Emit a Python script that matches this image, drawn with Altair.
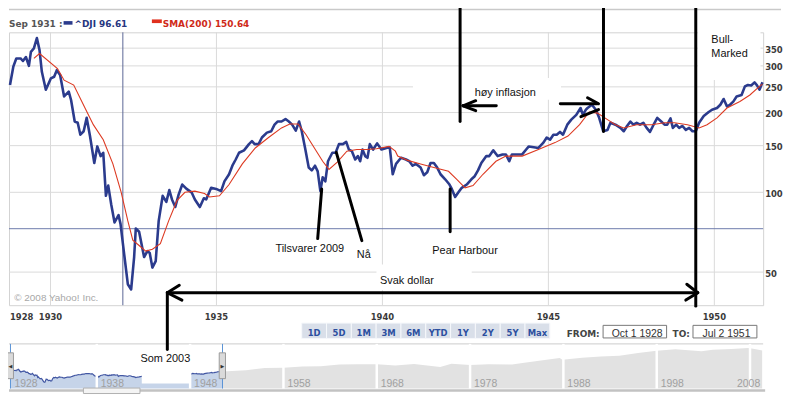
import altair as alt
import pandas as pd

# ---------------- values ----------------
# ^DJI (decimal year, index level)
dji_t = [1928.78, 1928.88, 1928.97, 1929.10, 1929.17, 1929.26, 1929.35, 1929.41, 1929.50, 1929.59,
         1929.67, 1929.74, 1929.86, 1930.01, 1930.11, 1930.19, 1930.29, 1930.41, 1930.55, 1930.62,
         1930.73, 1930.82, 1930.90, 1931.00, 1931.09, 1931.19, 1931.32, 1931.41, 1931.51, 1931.59,
         1931.67, 1931.74, 1931.83, 1931.93, 1932.05, 1932.11, 1932.23, 1932.33, 1932.43, 1932.52,
         1932.57, 1932.67, 1932.82, 1932.92, 1932.99, 1933.07, 1933.17, 1933.26, 1933.38, 1933.49,
         1933.58, 1933.66, 1933.76, 1933.86, 1933.97, 1934.10, 1934.25, 1934.35, 1934.50, 1934.62,
         1934.69, 1934.84, 1934.99, 1935.14, 1935.24, 1935.38, 1935.48, 1935.58, 1935.68, 1935.83,
         1935.98, 1936.07, 1936.15, 1936.27, 1936.37, 1936.52, 1936.65, 1936.75, 1936.84, 1936.96,
         1937.08, 1937.18, 1937.28, 1937.39, 1937.49, 1937.57, 1937.67, 1937.78, 1937.87, 1937.97,
         1938.05, 1938.13, 1938.20, 1938.28, 1938.36, 1938.49, 1938.59, 1938.69, 1938.81, 1938.91,
         1938.99, 1939.08, 1939.18, 1939.26, 1939.33, 1939.40, 1939.48, 1939.55, 1939.62, 1939.72,
         1939.84, 1939.97, 1940.12, 1940.22, 1940.31, 1940.41, 1940.56, 1940.71, 1940.81, 1940.91,
         1941.01, 1941.15, 1941.25, 1941.35, 1941.45, 1941.55, 1941.65, 1941.75, 1941.89, 1942.02,
         1942.09, 1942.19, 1942.29, 1942.39, 1942.54, 1942.68, 1942.78, 1942.88, 1942.98, 1943.13,
         1943.22, 1943.34, 1943.47, 1943.62, 1943.72, 1943.82, 1943.90, 1944.06, 1944.21, 1944.33,
         1944.41, 1944.56, 1944.70, 1944.85, 1944.95, 1945.05, 1945.15, 1945.25, 1945.35, 1945.44,
         1945.57, 1945.69, 1945.84, 1945.97, 1946.04, 1946.13, 1946.18, 1946.31, 1946.43, 1946.53,
         1946.65, 1946.78, 1946.87, 1947.02, 1947.17, 1947.27, 1947.37, 1947.47, 1947.56, 1947.66,
         1947.76, 1947.86, 1947.96, 1948.06, 1948.15, 1948.28, 1948.40, 1948.50, 1948.58, 1948.68,
         1948.75, 1948.85, 1948.94, 1949.04, 1949.14, 1949.24, 1949.34, 1949.44, 1949.54, 1949.68,
         1949.83, 1949.93, 1950.08, 1950.18, 1950.28, 1950.38, 1950.47, 1950.57, 1950.67, 1950.82,
         1950.92, 1951.01, 1951.11, 1951.21, 1951.28, 1951.36, 1951.45]
dji_v = [254, 298, 320, 320, 313, 324, 300, 339, 349, 382,
         344, 285, 244, 269, 273, 289, 277, 230, 240, 223,
         185, 183, 165, 170, 191, 163, 129, 149, 137, 141,
         97, 106, 90, 77, 82, 76, 57, 45, 43, 57,
         73, 71, 57, 60, 59, 52, 55, 78, 97, 92,
         102, 94, 88, 98, 107, 103, 100, 94, 88, 95,
         94, 104, 103, 101, 110, 117, 126, 133, 141, 144,
         152, 156, 152, 152, 161, 168, 170, 180, 185, 185,
         189, 185, 180, 171, 185, 170, 147, 124, 121, 126,
         120, 101, 114, 110, 131, 141, 141, 152, 152, 155,
         145, 143, 133, 137, 131, 145, 137, 135, 152, 145,
         153, 145, 147, 148, 117, 128, 135, 133, 131, 126,
         128, 124, 116, 119, 129, 129, 124, 117, 112, 107,
         103, 96, 100, 104, 107, 112, 115, 121, 129, 137,
         137, 144, 137, 139, 139, 131, 139, 139, 139, 145,
         149, 148, 147, 154, 161, 158, 165, 165, 169, 165,
         180, 188, 196, 208, 196, 205, 208, 214, 205, 191,
         170, 172, 183, 180, 175, 170, 178, 185, 180, 183,
         180, 183, 175, 169, 178, 191, 185, 180, 180, 190,
         175, 180, 175, 178, 172, 175, 170, 170, 183, 194,
         201, 205, 208, 214, 225, 211, 214, 220, 230, 233,
         251, 254, 253, 260, 254, 244, 260]

# SMA(200)
sma_t = [1929.50, 1929.67, 1930.21, 1930.41, 1930.70, 1931.04, 1931.29, 1931.59, 1931.88, 1932.13,
         1932.33, 1932.48, 1932.67, 1932.87, 1933.07, 1933.31, 1933.56, 1933.81, 1934.05, 1934.35,
         1934.64, 1934.79, 1935.09, 1935.38, 1935.78, 1936.17, 1936.57, 1936.96, 1937.21, 1937.46,
         1937.70, 1937.95, 1938.20, 1938.39, 1938.64, 1938.93, 1939.23, 1939.53, 1939.82, 1940.20,
         1940.39, 1940.46, 1940.76, 1941.15, 1941.55, 1941.99, 1942.24, 1942.49, 1942.73, 1943.03,
         1943.42, 1943.72, 1944.21, 1944.70, 1945.20, 1945.59, 1945.94, 1946.23, 1946.48, 1946.78,
         1947.02, 1947.27, 1947.66, 1948.11, 1948.50, 1948.80, 1949.19, 1949.54, 1949.78, 1950.08,
         1950.38, 1950.77, 1951.07, 1951.36, 1951.45]
sma_v = [320, 334, 293, 265, 254, 208, 180, 158, 128, 100,
         78, 66, 63, 60, 61, 64, 78, 93, 100, 101,
         99, 96, 97, 107, 128, 147, 161, 175, 181, 181,
         165, 147, 131, 122, 130, 143, 145, 145, 146, 149,
         143, 137, 132, 128, 124, 120, 112, 104, 106, 117,
         131, 137, 137, 145, 154, 163, 180, 201, 199, 188,
         180, 175, 180, 180, 183, 183, 180, 175, 180, 191,
         208, 220, 233, 251, 256]

# navigator: the rest of the long-term series, 1951 - 2008
nav_ext_t = [1951.47, 1952, 1954, 1956, 1958, 1960, 1962, 1964, 1966, 1968, 1970, 1972, 1974.8,
             1976, 1978, 1980, 1982.5, 1984, 1986, 1987.6, 1987.9, 1990, 1992, 1994, 1996,
             1998, 2000, 2002.8, 2004, 2006, 2007.8, 2008.5, 2009.3]
nav_ext_v = [260, 270, 330, 480, 500, 620, 650, 840, 900, 900, 720, 950, 560,
             960, 800, 880, 860, 1200, 1800, 2600, 1900, 2700, 3300, 3800, 5800,
             8500, 11000, 7800, 10400, 11500, 13900, 11400, 9000]

x_ticks = [1930, 1935, 1940, 1945, 1950]
x_tick_s = ['1930', '1935', '1940', '1945', '1950']
x_first_t = [1928.75]
x_first_s = ['1928']
y_ticks = [50, 100, 150, 200, 250, 300, 350]
y_tick_s = ['50', '100', '150', '200', '250', '300', '350']
nav_decades = [1938, 1948, 1958, 1968, 1978, 1988, 1998, 2008]
nav_label_t = [1928.75, 1938, 1948, 1958, 1968, 1978, 1988, 1998]
nav_label_s = ['1928', '1938', '1948', '1958', '1968', '1978', '1988', '1998']
nav_last_t = [2009.3]
nav_last_s = ['2008']
handle_t = [1928.75, 1951.47]
handle_glyph = ['\u25C0', '\u25B6']
buttons = ['1D', '5D', '1M', '3M', '6M', 'YTD', '1Y', '2Y', '5Y', 'Max']
cross_t = [1932.18]
cross_v = [72.9]

# hand-drawn annotation strokes (from year/value to year/value)
seg_t1 = [1942.34, 1946.66, 1949.44,
          1942.43, 1942.43, 1942.43,
          1945.36, 1946.18, 1945.98,
          1938.17, 1938.61, 1942.04,
          1933.52, 1933.52, 1933.52, 1949.50, 1949.50,
          1933.52]
seg_v1 = [529.3, 529.3, 529.3,
          212.1, 212.1, 212.1,
          215.9, 227.4, 193.0,
          102.9, 141.5, 102.9,
          41.8, 41.8, 41.8, 41.8, 41.8,
          41.8]
seg_t2 = [1942.34, 1946.66, 1949.44,
          1943.43, 1942.81, 1942.81,
          1946.48, 1946.51, 1946.51,
          1938.05, 1939.38, 1942.04,
          1949.50, 1933.88, 1933.96, 1949.17, 1949.14,
          1933.52]
seg_v2 = [184.9, 169.6, 37.2,
          212.1, 221.7, 203.4,
          215.9, 215.9, 205.1,
          66.9, 65.7, 71.0,
          41.8, 44.6, 39.2, 45.0, 39.2,
          25.5]

note_s = ['h\u00f8y inflasjon', 'Tilsvarer 2009', 'N\u00e5', 'Pear Harbour', 'Svak dollar', 'Som 2003']
note_t = [1943.70, 1937.81, 1939.44, 1942.49, 1940.74, 1933.46]
note_v = [241.5, 62.4, 59.3, 61.3, 47.4, 24.0]
bull_s = ['Bull-', 'Marked']
bull_t = [1949.91, 1949.91]
bull_v = [384.6, 341.0]

# white patches painted behind the hand-written notes
box_t1 = [1940.92, 1949.50, 1939.82, 1932.75]
box_v1 = [270.2, 419.5, 53.4, 25.9]
box_t2 = [1945.38, 1951.39, 1942.69, 1934.20]
box_v2 = [223.5, 265.6, 42.7, 19.0]

# ---------------- chart ----------------
UI = 'DejaVu Sans'
TXT = 'Liberation Sans'
W, H = 760, 275
DY = 2.5
one = pd.DataFrame({'a': [0]})

xs = alt.Scale(domain=[1928.75, 1951.47], nice=False, zero=False)
ys = alt.Scale(type='log', domain=[37.5, 401.6], nice=False)


def X(f):
    return alt.X(f, type='quantitative', scale=xs, axis=None)


def Y(f):
    return alt.Y(f, type='quantitative', scale=ys, axis=None)


dji = pd.DataFrame({'t': dji_t, 'v': dji_v})
sma = pd.DataFrame({'t': sma_t, 'v': sma_v})

g_x = alt.Chart(pd.DataFrame({'t': x_ticks})).mark_rule(color='#dadada', strokeWidth=1).encode(x=X('t'))
g_y = alt.Chart(pd.DataFrame({'v': y_ticks})).mark_rule(color='#dadada', strokeWidth=1).encode(y=Y('v'))
lab_x = alt.Chart(pd.DataFrame({'t': x_ticks, 's': x_tick_s})).mark_text(
    font=UI, fontSize=8.5, fontWeight='bold', color='#3a3a3a', baseline='middle', dy=DY).encode(
    x=X('t'), y=alt.value(284), text='s:N')
lab_x0 = alt.Chart(pd.DataFrame({'t': x_first_t, 's': x_first_s})).mark_text(
    font=UI, fontSize=8.5, fontWeight='bold', color='#3a3a3a', baseline='middle', align='left', dx=1, dy=DY).encode(
    x=X('t'), y=alt.value(284), text='s:N')
lab_y = alt.Chart(pd.DataFrame({'v': y_ticks, 's': y_tick_s})).mark_text(
    font=UI, fontSize=8.5, fontWeight='bold', color='#3a3a3a', baseline='middle', align='left', dy=1.5).encode(
    x=alt.value(W + 2), y=Y('v'), text='s:N')
m_cross_v = alt.Chart(pd.DataFrame({'t': cross_t})).mark_rule(color='#5b6796', strokeWidth=1).encode(x=X('t'))
m_cross_h = alt.Chart(pd.DataFrame({'v': cross_v})).mark_rule(color='#6e7bab', strokeWidth=1).encode(y=Y('v'))
m_dji = alt.Chart(dji).mark_line(color='#2b3b8d', strokeWidth=2.6, strokeJoin='round').encode(x=X('t'), y=Y('v'))
m_sma = alt.Chart(sma).mark_line(color='#dd3a22', strokeWidth=1.1).encode(x=X('t'), y=Y('v'))
m_copy = alt.Chart(pd.DataFrame({'t': [1928.91], 'v': [40.9], 's': ['\u00a9 2008  Yahoo! Inc.']})).mark_text(
    align='left', baseline='middle', font=TXT, fontSize=10, color='#a8a8a8', dy=DY).encode(
    x=X('t'), y=Y('v'), text='s:N')
main = alt.layer(g_x, g_y, lab_x, lab_x0, lab_y, m_cross_v, m_cross_h, m_dji, m_sma, m_copy)

# navigator
nxs = alt.Scale(domain=[1928.75, 2009.3], range=[1.5, 759], nice=False, zero=False)
nys = alt.Scale(type='log', domain=[15, 27300], range=[359, 314], nice=False)


def NX(f):
    return alt.X(f, type='quantitative', scale=nxs, axis=None)


def NY(f):
    return alt.Y(f, type='quantitative', scale=nys, axis=None)


nav_dji = dji.assign(base=15)
nav_ext = pd.DataFrame({'t': nav_ext_t, 'v': nav_ext_v, 'base': 15})
n_top = alt.Chart(one).mark_rule(color='#cccccc', strokeWidth=1).encode(
    x=alt.value(0), x2=alt.value(W), y=alt.value(314))
n_ext = alt.Chart(nav_ext).mark_area(fill='#e2e2e2', opacity=1).encode(x=NX('t'), y=NY('v'), y2='base')
n_sel = alt.Chart(nav_dji).mark_area(fill='#c6d4e9', opacity=1).encode(x=NX('t'), y=NY('v'), y2='base')
n_line = alt.Chart(nav_dji).mark_line(color='#4257a3', strokeWidth=1.2).encode(x=NX('t'), y=NY('v'))
n_sep = alt.Chart(pd.DataFrame({'t': nav_decades, 'lo': 15, 'hi': 27300})).mark_rule(
    color='white', strokeWidth=2.5).encode(x=NX('t'), y=NY('lo'), y2='hi')
n_lab = alt.Chart(pd.DataFrame({'t': nav_label_t, 's': nav_label_s})).mark_text(
    align='left', baseline='middle', dx=4, dy=1.5, font=TXT, fontSize=10.5, color='#a0a0a0').encode(
    x=NX('t'), y=alt.value(353), text='s:N')
n_lab2 = alt.Chart(pd.DataFrame({'t': nav_last_t, 's': nav_last_s})).mark_text(
    align='right', baseline='middle', dx=-2, dy=1.5, font=TXT, fontSize=10.5, color='#a0a0a0').encode(
    x=NX('t'), y=alt.value(353), text='s:N')
n_hline = alt.Chart(pd.DataFrame({'t': handle_t, 'lo': 15, 'hi': 27300})).mark_rule(
    color='#5b93d6', strokeWidth=1).encode(x=NX('t'), y=NY('lo'), y2='hi')
n_hrect = alt.Chart(pd.DataFrame({'t': handle_t})).mark_rect(
    fill='#dadada', stroke='#9a9a9a', strokeWidth=1, xOffset=-3.3, x2Offset=3).encode(
    x=NX('t'), x2='t', y=alt.value(323), y2=alt.value(349))
n_hglyph = alt.Chart(pd.DataFrame({'t': handle_t, 's': handle_glyph})).mark_text(
    font=UI, fontSize=5, color='#333333', baseline='middle').encode(x=NX('t'), y=alt.value(336), text='s:N')
n_scroll = alt.Chart(one).mark_rule(color='#c2c2c2', strokeWidth=2.5).encode(
    x=alt.value(0), x2=alt.value(W + 2), y=alt.value(361))
n_thumb = alt.Chart(one).mark_rect(fill='#f4f4f4', stroke='#b0b0b0', strokeWidth=1).encode(
    x=alt.value(75), x2=alt.value(132), y=alt.value(358.5), y2=alt.value(364))
nav = alt.layer(n_top, n_ext, n_sel, n_line, n_sep, n_lab, n_lab2, n_hline, n_hrect, n_hglyph, n_scroll, n_thumb)

# range buttons
bdf = pd.DataFrame({'b': buttons})
bs = alt.Scale(domain=buttons, range=[295, 545], paddingInner=0, paddingOuter=0)
b_rect = alt.Chart(bdf).mark_rect(fill='#d9dfe9', stroke='#f6f8fb', strokeWidth=1).encode(
    x=alt.X('b', type='nominal', scale=bs, axis=None, sort=None), y=alt.value(293), y2=alt.value(308.5))
b_text = alt.Chart(bdf).mark_text(font=UI, fontSize=8.5, fontWeight='bold', color='#2c4f9f',
                                  baseline='middle', dy=DY).encode(
    x=alt.X('b', type='nominal', scale=bs, axis=None, sort=None), y=alt.value(300.8), text='b:N')
btn = alt.layer(b_rect, b_text)


# header, top border, FROM / TO boxes
def ptext(s, x, y, **kw):
    kw.setdefault('align', 'left')
    return alt.Chart(one).mark_text(text=s, baseline='middle', dy=DY, **kw).encode(x=alt.value(x), y=alt.value(y))


def prect(x1, x2, y1, y2, **kw):
    return alt.Chart(one).mark_rect(**kw).encode(x=alt.value(x1), x2=alt.value(x2), y=alt.value(y1), y2=alt.value(y2))


ui = alt.layer(
    alt.Chart(one).mark_rule(color='#c9c9c9', strokeWidth=1.5).encode(
        x=alt.value(0), x2=alt.value(778), y=alt.value(-23)),
    ptext('Sep 1931 :', 0, -10.8, font=UI, fontSize=9, fontWeight='bold', color='#555555'),
    prect(55, 64, -11.3, -7.7, fill='#2b3b8d'),
    ptext('^DJI 96.61', 66, -10.8, font=UI, fontSize=9, fontWeight='bold', color='#27367f'),
    prect(144, 154, -13, -9.3, fill='#e0301e'),
    ptext('SMA(200) 150.64', 155, -10.8, font=UI, fontSize=9, fontWeight='bold', color='#cf2a18'),
    ptext('FROM:', 562, 301.3, font=UI, fontSize=9, fontWeight='bold', color='#444444'),
    prect(598.7, 662.7, 295.3, 308, fill='white', stroke='#777777', strokeWidth=1),
    ptext('Oct 1 1928', 633, 301.5, align='center', font=TXT, fontSize=10.5, color='#333333'),
    ptext('TO:', 668.7, 301.3, font=UI, fontSize=9, fontWeight='bold', color='#444444'),
    prect(689.3, 753.7, 295.3, 308, fill='white', stroke='#777777', strokeWidth=1),
    ptext('Jul 2 1951', 723, 301.5, align='center', font=TXT, fontSize=10.5, color='#333333'),
)

# hand-drawn annotations
boxes = pd.DataFrame({'t1': box_t1, 'v1': box_v1, 't2': box_t2, 'v2': box_v2})
segs = pd.DataFrame({'t1': seg_t1, 'v1': seg_v1, 't2': seg_t2, 'v2': seg_v2})
notes = pd.DataFrame({'t': note_t, 'v': note_v, 's': note_s})
bull = pd.DataFrame({'t': bull_t, 'v': bull_v, 's': bull_s})
a_box = alt.Chart(boxes).mark_rect(fill='white').encode(x=X('t1'), x2='t2', y=Y('v1'), y2='v2')
a_seg = alt.Chart(segs).mark_rule(color='black', strokeWidth=3, strokeCap='round').encode(
    x=X('t1'), x2='t2', y=Y('v1'), y2='v2')
a_note = alt.Chart(notes).mark_text(font=TXT, fontSize=11, color='#111111', baseline='middle', dy=DY).encode(
    x=X('t'), y=Y('v'), text='s:N')
a_bull = alt.Chart(bull).mark_text(font=TXT, fontSize=11, color='#111111', baseline='middle', align='left',
                                   dy=DY).encode(x=X('t'), y=Y('v'), text='s:N')
annot = alt.layer(a_box, a_seg, a_note, a_bull)

chart = alt.layer(main, nav, btn, ui, annot).resolve_scale(
    x='independent', y='independent'
).properties(
    width=W, height=H, background='white',
    padding={'left': -2, 'top': -11, 'right': 0, 'bottom': 0}
).configure_view(stroke='#d3d3d3', fill='white')

chart.save('out.html', embed_options={'renderer': 'svg', 'actions': False})
